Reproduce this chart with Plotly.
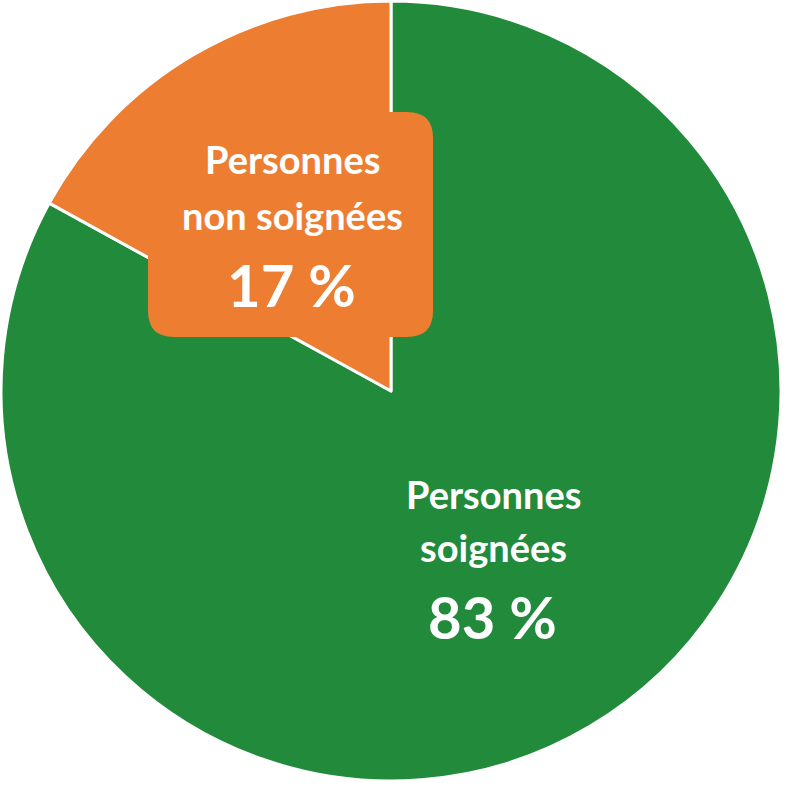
import plotly.graph_objects as go

labels = ["Personnes soignées", "Personnes non soignées"]
values = [83, 17]
colors = ["#228B3B", "#ED7D31"]
pct_text = ["83 %", "17 %"]

W = H = 786
FONT = "Lato"

def px(x):
    return x / W

def py(y):
    return 1 - y / H

fig = go.Figure(go.Pie(
    labels=labels, values=values, sort=False, direction="clockwise", rotation=0,
    marker=dict(colors=colors, line=dict(color="white", width=3)),
    textinfo="none", hoverinfo="label+percent", showlegend=False,
    domain=dict(x=[0.0013, 0.9936], y=[0.0064, 0.9987]),
))

# rounded callout box behind the orange label
x0, x1, y0, y1, r = 148, 433, 112, 337, 26
path = (f"M {px(x0+r)},{py(y0)} L {px(x1-r)},{py(y0)} Q {px(x1)},{py(y0)} {px(x1)},{py(y0+r)} "
        f"L {px(x1)},{py(y1-r)} Q {px(x1)},{py(y1)} {px(x1-r)},{py(y1)} "
        f"L {px(x0+r)},{py(y1)} Q {px(x0)},{py(y1)} {px(x0)},{py(y1-r)} "
        f"L {px(x0)},{py(y0+r)} Q {px(x0)},{py(y0)} {px(x0+r)},{py(y0)} Z")
fig.add_shape(type="path", path=path, xref="paper", yref="paper",
              fillcolor=colors[1], line=dict(width=0))

def line(text, x, y, size, bold=False):
    fig.add_annotation(text=f"<b>{text}</b>" if bold else text, x=px(x), y=py(y),
                       xref="paper", yref="paper", xanchor="center", yanchor="middle",
                       showarrow=False, font=dict(family=FONT, size=size, color="white"))

# orange label
line("Personnes", 292, 159, 38, True)
line("non soignées", 292, 215, 38, True)
line(pct_text[1], 291, 284, 58, True)
# green label
line("Personnes", 493, 494, 38, True)
line("soignées", 493, 547, 38, True)
line(pct_text[0], 492, 616, 58, True)

fig.update_layout(width=W, height=H, margin=dict(l=0, r=0, t=0, b=0),
                  paper_bgcolor="white", plot_bgcolor="white")
fig.write_html("out.html", config={"displayModeBar": False},
               post_script="document.body.style.margin='0';")
